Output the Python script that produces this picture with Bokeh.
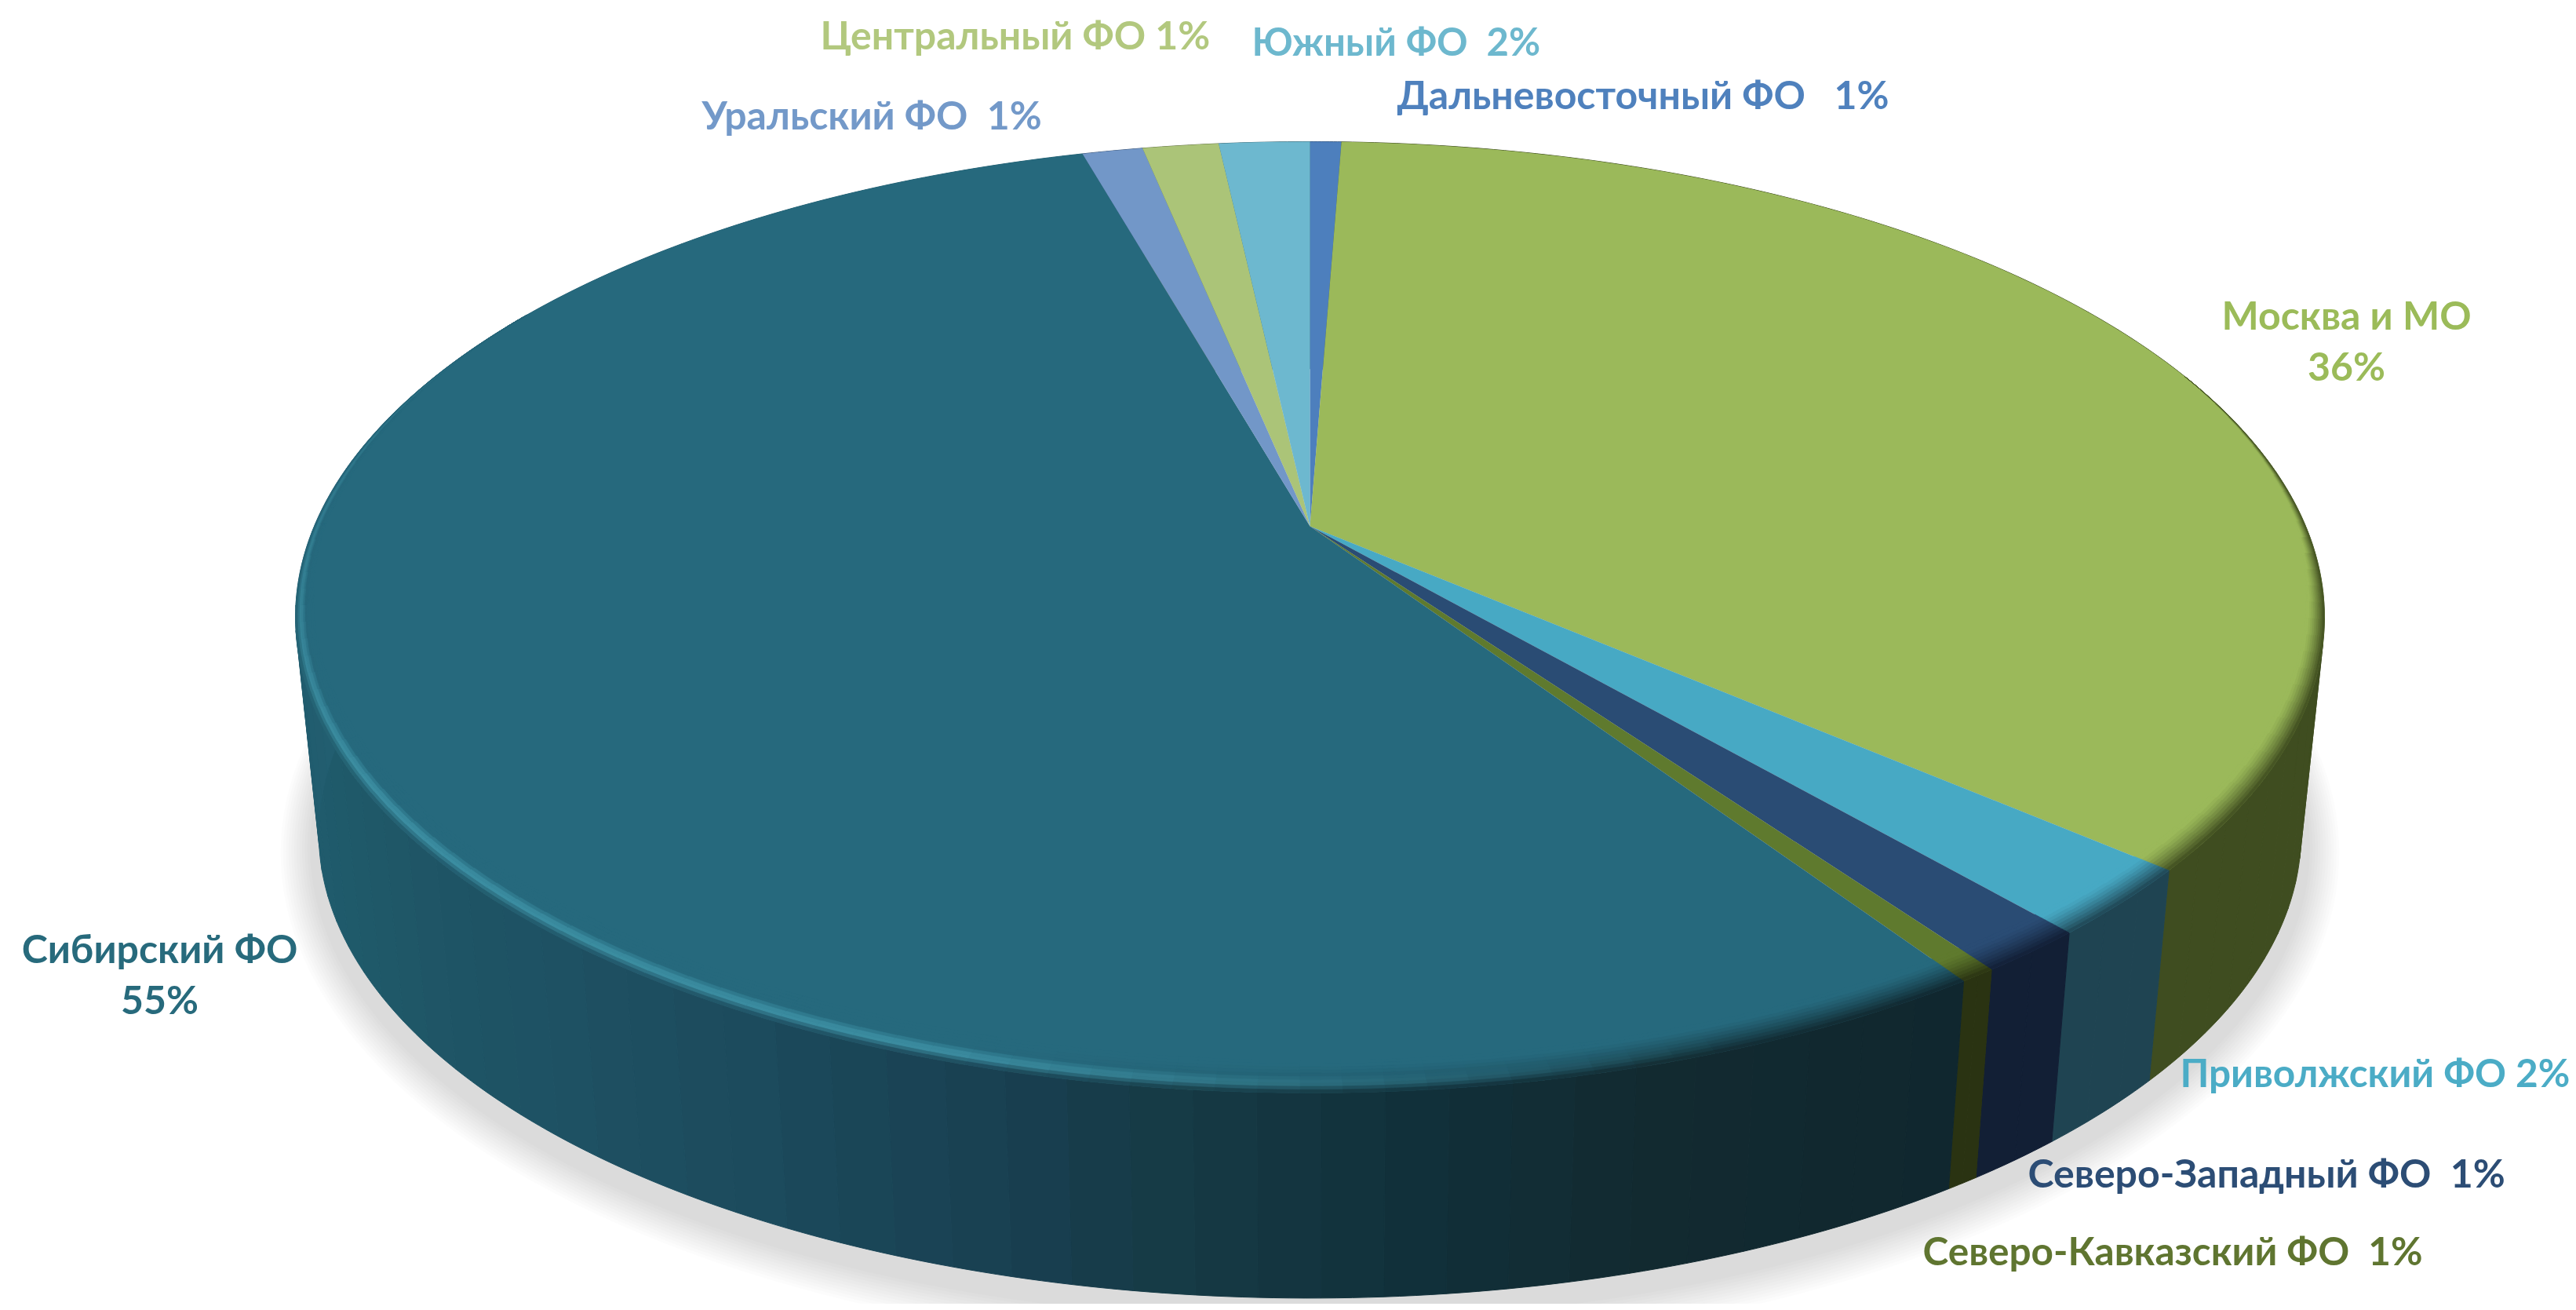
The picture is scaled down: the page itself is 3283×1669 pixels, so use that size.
import numpy as np
from bokeh.plotting import figure
from bokeh.models import Range1d, ColumnDataSource
from bokeh.core.properties import value
from bokeh.embed import file_html
from bokeh.resources import INLINE

# ---- data, clockwise from 12 o'clock
regions = ["Дальневосточный ФО", "Москва и МО", "Приволжский ФО", "Северо-Западный ФО",
           "Северо-Кавказский ФО", "Сибирский ФО", "Уральский ФО", "Центральный ФО", "Южный ФО"]
shares = [0.6, 35.8, 2.3, 1.5, 0.5, 54.94, 1.16, 1.46, 1.74]
label_texts = ["Дальневосточный ФО \u00a0 1%", "Москва и МО\n36%", "Приволжский ФО 2%", "Северо-Западный ФО \u00a01%",
               "Северо-Кавказский ФО \u00a01%", "Сибирский ФО\n55%", "Уральский ФО \u00a01%", "Центральный ФО 1%", "Южный ФО \u00a02%"]

# ---- styles
top_colors = ["#4d7fbd", "#9bb95a", "#47a9c4", "#2a4c74", "#5f7a2e", "#26697d", "#7297c8", "#abc478", "#6db8cf"]
wall_colors = ["#2c4a6e", "#3f4d20", "#1f4452", "#121f35", "#2a3312", "#1d4a5c", "#3f587a", "#667548", "#3f6f7c"]
text_colors = ["#4f81bd", "#9bbb59", "#4bacc6", "#2c4d75", "#5f7530", "#276a7c", "#7399c9", "#b2c87e", "#6db8ce"]
label_x = [1780, 2990, 2778, 2584, 2450, 203, 894, 1045, 1595]
label_y = [119, 433, 1365, 1493, 1592, 1240, 145, 43, 51]
label_anchor = ["left", "center", "left", "left", "left", "center", "left", "left", "left"]
label_size = [50, 50, 49.5, 50, 49.5, 50, 50, 50, 49]

CX, CY, A, B, K = 1669.0, 670.0, 1269.0, 583.8, 0.1914
BOTTOM_CY, BOTTOM_S = 948.0, 0.977


def proj(r, theta, level=0.0):
    """Pie polar position -> page position; level 0 is the top face, 1 the bottom."""
    x, y = r * np.sin(theta), r * np.cos(theta)
    w = 1 + K * y
    s = 1 + (BOTTOM_S - 1) * level
    cy = CY + (BOTTOM_CY - CY) * level
    return CX + s * A * x / w, cy - s * B * y / w


def hex2rgb(c):
    return np.array([int(c[i:i + 2], 16) for i in (1, 3, 5)], float)


def mix(c1, c2, t):
    v = hex2rgb(c1) * (1 - t) + hex2rgb(c2) * t
    return "#%02x%02x%02x" % tuple(int(round(q)) for q in np.clip(v, 0, 255))


fr = np.array(shares) / sum(shares)
edges = np.concatenate([[0], np.cumsum(fr)]) * 2 * np.pi

p = figure(width=3275, height=1661, x_range=Range1d(0, 3275), y_range=Range1d(1661, 0),
           toolbar_location=None, output_backend="svg", min_border=0)
p.axis.visible = False
p.grid.visible = False
p.outline_line_color = None

# soft shadow under the disc
t = np.linspace(0, 2 * np.pi, 240)
for i in range(12, 0, -1):
    ex = 8 + i * 3.4
    sx = CX + (BOTTOM_S * A * np.sin(t) / (1 + K * np.cos(t))) * (1 + ex / 1263)
    sy = BOTTOM_CY + 16 - (BOTTOM_S * B * np.cos(t) / (1 + K * np.cos(t))) * (1 + ex / 620)
    p.patch(sx, sy, fill_color="#000000", fill_alpha=0.0105, line_color=None)

# side wall, in stepped facets
SIB_STOPS_T = np.radians([147, 163, 175, 186, 194, 207, 218, 244, 275, 345])
SIB_STOPS = ["#10272f", "#122a30", "#11303a", "#163a45", "#183f50", "#1c4a5c", "#1e5062", "#1f5a6a", "#235f72", "#235f72"]


def wall_color(i, th):
    if regions[i] != "Сибирский ФО":
        return wall_colors[i]
    j = np.searchsorted(SIB_STOPS_T, th)
    j = int(np.clip(j, 1, len(SIB_STOPS) - 1))
    u = (th - SIB_STOPS_T[j - 1]) / (SIB_STOPS_T[j] - SIB_STOPS_T[j - 1])
    return mix(SIB_STOPS[j - 1], SIB_STOPS[j], float(np.clip(u, 0, 1)))


xs, ys, cs = [], [], []
for i in range(len(shares)):
    n = max(2, int((edges[i + 1] - edges[i]) / np.radians(3)) + 1)
    th = np.linspace(edges[i], edges[i + 1], n + 1)
    for a0, a1 in zip(th[:-1], th[1:]):
        arc = np.linspace(a0, a1, 5)
        xt, yt = proj(1.0, arc, 0.0)
        xb, yb = proj(1.0, arc[::-1], 1.0)
        xs.append(np.concatenate([xt, xb]).tolist())
        ys.append(np.concatenate([yt, yb]).tolist())
        cs.append(wall_color(i, (a0 + a1) / 2))
p.patches(xs, ys, fill_color=cs, line_color=cs, line_width=1)

# top face
xs, ys, cs = [], [], []
for i in range(len(shares)):
    n = max(4, int((edges[i + 1] - edges[i]) / np.radians(1.5)))
    arc = np.linspace(edges[i], edges[i + 1], n + 1)
    xa, ya = proj(1.0, arc)
    xs.append([CX] + xa.tolist())
    ys.append([CY] + ya.tolist())
    cs.append(top_colors[i])
p.patches(xs, ys, fill_color=cs, line_color=None)

# bevel on the front rim
BANDS = 10
HILITE = "#3f94a8"
xs, ys, cs = [], [], []
for i in range(len(shares)):
    n = max(2, int((edges[i + 1] - edges[i]) / np.radians(2)) + 1)
    th = np.linspace(edges[i], edges[i + 1], n + 1)
    for a0, a1 in zip(th[:-1], th[1:]):
        mid = (a0 + a1) / 2
        deg = np.degrees(mid)
        if not 70 < deg < 300:
            continue
        taper = float(np.clip((deg - 70) / 25, 0, 1)) * float(np.clip((300 - deg) / 25, 0, 1))
        width = (0.036 * max(-np.cos(mid), 0) + 0.011) * taper
        is_sib = regions[i] == "Сибирский ФО"
        glow = 0.0
        if is_sib:
            glow = float(np.clip((deg - 160) / 38, 0, 1)) * float(np.interp(deg, [240, 275, 300], [1, .55, .15]))
        for b in range(BANDS):
            u0, u1 = b / BANDS, (b + 1) / BANDS
            um = (u0 + u1) / 2
            r0, r1 = 1 - width * (1 - u0), 1 - width * (1 - u1)
            base = top_colors[i]
            wc = wall_color(i, mid)
            plain = mix(base, wc, float(np.clip((um - .15) / .85, 0, 1)) ** 1.3)
            if um < .45:
                lit = base
            elif um < .72:
                lit = mix(base, HILITE, (um - .45) / .27)
            else:
                lit = mix(HILITE, wc, (um - .72) / .28)
            c = mix(plain, lit, glow)
            arc = np.linspace(a0, a1, 3)
            xo, yo = proj(r1, arc)
            xn, yn = proj(r0, arc[::-1])
            xs.append(np.concatenate([xo, xn]).tolist())
            ys.append(np.concatenate([yo, yn]).tolist())
            cs.append(c)
p.patches(xs, ys, fill_color=cs, line_color=cs, line_width=0.6)

src = ColumnDataSource(dict(x=label_x, y=label_y, text=label_texts, color=text_colors,
                            anchor=label_anchor, size=[f"{s}px" for s in label_size]))
p.text("x", "y", text="text", source=src, text_color="color", text_align="anchor",
       text_baseline="middle", text_font=value("Lato"), text_font_style="bold",
       text_font_size="size", text_line_height=1.09)

open("out.html", "w").write(file_html(p, INLINE))
